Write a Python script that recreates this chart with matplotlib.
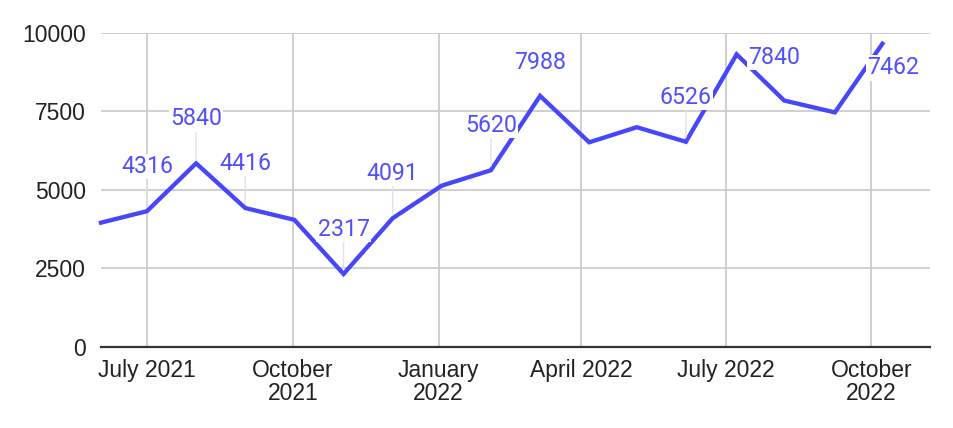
import pandas as pd
import matplotlib
matplotlib.use('Agg')
import matplotlib.pyplot as plt

# values
dates = ['2021-06-02', '2021-07-01', '2021-08-01', '2021-09-01', '2021-10-02',
         '2021-11-02', '2021-12-03', '2022-01-03', '2022-02-03', '2022-03-06',
         '2022-04-06', '2022-05-06', '2022-06-06', '2022-07-08', '2022-08-07',
         '2022-09-08', '2022-10-08']
values = [3950, 4316, 5840, 4416, 4040, 2317, 4091, 5130, 5620, 7988,
          6510, 6990, 6526, 9310, 7840, 7462, 9650]
labeled = [1, 2, 3, 5, 6, 8, 9, 12, 14, 15]

tick_dates = ['2021-07-01', '2021-10-01', '2022-01-01', '2022-04-01', '2022-07-01', '2022-10-01']
tick_labels = ['July 2021', 'October\n2021', 'January\n2022', 'April 2022', 'July 2022', 'October\n2022']
y_ticks = [0, 2500, 5000, 7500, 10000]

# label placement (offset in points from the data point) and leader lines
label_offsets = {9: (0, 24), 14: (-7, 31), 15: (42, 32)}
no_leader = [9, 14, 15]

LINE = '#4646fb'
GRID = '#cccccc'

x = pd.to_datetime(dates)

fig = plt.figure(figsize=(9.54, 4.28), dpi=100)
ax = fig.add_axes([101 / 954, 1 - 346.7 / 428, 829 / 954, 314 / 428])

ax.plot(x, values, color=LINE, lw=3.1, solid_joinstyle='miter', zorder=3, clip_on=False)

for i in labeled:
    dx, dy = label_offsets.get(i, (0, 32))
    arrow = None
    if i not in no_leader:
        arrow = dict(arrowstyle='-', color='#e2e2e2', lw=1, shrinkA=0, shrinkB=3)
    ax.annotate(str(values[i]), (x[i], values[i]), xytext=(dx, dy),
                textcoords='offset points', ha='center', va='center',
                fontsize=16.7, family='Roboto', color='#4f4fff', zorder=4,
                bbox=dict(boxstyle='square,pad=0.05', fc='white', ec='none'),
                arrowprops=arrow)

ax.set_xlim(pd.Timestamp('2021-06-02'), pd.Timestamp('2022-11-07'))
ax.set_ylim(0, 10000)
ax.set_yticks(y_ticks)
ax.set_xticks(pd.to_datetime(tick_dates))
ax.set_xticklabels(tick_labels, linespacing=0.98)

ax.grid(True, color=GRID, lw=1.3)
ax.set_axisbelow(True)
for side in ['top', 'right', 'left']:
    ax.spines[side].set_visible(False)
ax.spines['bottom'].set_color('#333333')
ax.spines['bottom'].set_linewidth(1.6)
ax.spines['bottom'].set_zorder(5)

ax.tick_params(length=0, labelsize=16.5, labelcolor='#222222')
ax.tick_params(axis='y', pad=11)
ax.tick_params(axis='x', pad=9)
for lab in ax.get_xticklabels() + ax.get_yticklabels():
    lab.set_family('Liberation Sans')

fig.savefig('out.png', dpi=100)
